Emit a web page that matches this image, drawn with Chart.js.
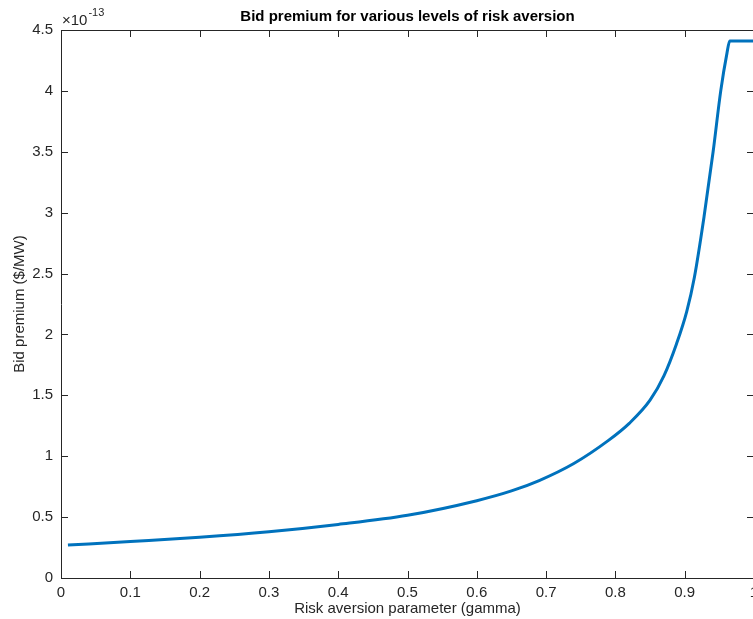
<!DOCTYPE html>
<html>
<head>
<meta charset="utf-8">
<script src="https://cdn.jsdelivr.net/npm/chart.js@4"></script>
<style>
  html, body { margin: 0; padding: 0; background: #fff; overflow: hidden; }
  #wrap { position: absolute; left: 0; top: 0; width: 790px; height: 619px; }
</style>
</head>
<body>
<div id="wrap"><canvas id="premiumChart" width="790" height="619"></canvas></div>
<script>
// risk aversion parameter (gamma)
const gammaValues = [0.01, 0.1, 0.2, 0.3, 0.4, 0.5, 0.6, 0.65, 0.69, 0.74, 0.79, 0.82, 0.85, 0.87, 0.888, 0.903, 0.914, 0.928, 0.941, 0.952, 0.961, 0.965, 1.0];
// bid premium, in units of 1e-13 $/MW
const bidPremium = [0.27, 0.30, 0.335, 0.38, 0.44, 0.515, 0.635, 0.715, 0.80, 0.94, 1.13, 1.27, 1.46, 1.66, 1.92, 2.19, 2.47, 2.97, 3.5, 4.0, 4.31, 4.41, 4.41];

const xTicks = [0, 0.1, 0.2, 0.3, 0.4, 0.5, 0.6, 0.7, 0.8, 0.9, 1];
const xTickLabels = ['0', '0.1', '0.2', '0.3', '0.4', '0.5', '0.6', '0.7', '0.8', '0.9', '1'];
const yTicks = [0, 0.5, 1, 1.5, 2, 2.5, 3, 3.5, 4, 4.5];
const yTickLabels = ['0', '0.5', '1', '1.5', '2', '2.5', '3', '3.5', '4', '4.5'];

const chartTitle = 'Bid premium for various levels of risk aversion';
const axisInk = '#262626';
const fontFamily = '"Liberation Sans", Arial, Helvetica, sans-serif';

// matlab style box with inward ticks, title and exponent label
const matlabFrame = {
    id: 'matlabFrame',
    afterDraw(chart) {
        const { ctx, chartArea: a, scales: { x, y } } = chart;
        const tick = 7;
        ctx.save();
        ctx.strokeStyle = axisInk;
        ctx.lineWidth = 1;
        ctx.beginPath();
        ctx.rect(Math.round(a.left) + 0.5, Math.round(a.top) + 0.5, Math.round(a.right - a.left), Math.round(a.bottom - a.top));
        xTicks.forEach(v => {
            const px = Math.round(x.getPixelForValue(v)) + 0.5;
            ctx.moveTo(px, a.bottom); ctx.lineTo(px, a.bottom - tick);
            ctx.moveTo(px, a.top); ctx.lineTo(px, a.top + tick);
        });
        yTicks.forEach(v => {
            const py = Math.round(y.getPixelForValue(v)) + 0.5;
            ctx.moveTo(a.left, py); ctx.lineTo(a.left + tick, py);
            ctx.moveTo(a.right, py); ctx.lineTo(a.right - tick, py);
        });
        ctx.stroke();

        ctx.fillStyle = '#000';
        ctx.font = 'bold 15px ' + fontFamily;
        ctx.textAlign = 'center';
        ctx.textBaseline = 'middle';
        ctx.fillText(chartTitle, (a.left + a.right) / 2, 17);

        ctx.fillStyle = axisInk;
        ctx.textAlign = 'left';
        ctx.textBaseline = 'alphabetic';
        ctx.font = '15px ' + fontFamily;
        ctx.fillText('\u00d710', a.left + 1, 25);
        const w = ctx.measureText('\u00d710').width;
        ctx.font = '11px ' + fontFamily;
        ctx.fillText('-13', a.left + 1 + w + 1, 16);
        ctx.restore();
    }
};

new Chart(document.getElementById('premiumChart'), {
    type: 'line',
    data: {
        labels: gammaValues,
        datasets: [{
            data: gammaValues.map((g, i) => ({ x: g, y: bidPremium[i] })),
            borderColor: '#0072BD',
            borderWidth: 3,
            pointRadius: 0,
            fill: false,
            cubicInterpolationMode: 'monotone'
        }]
    },
    options: {
        responsive: false,
        animation: false,
        devicePixelRatio: 1,
        layout: { padding: { left: 0, top: 30, right: 36, bottom: 0 } },
        plugins: { legend: { display: false }, tooltip: { enabled: false }, title: { display: false } },
        scales: {
            x: {
                type: 'linear', min: 0, max: 1,
                afterBuildTicks: s => { s.ticks = xTicks.map(v => ({ value: v })); },
                afterFit: s => { s.height = 41; },
                grid: { display: false, drawTicks: false },
                border: { display: false },
                ticks: {
                    color: axisInk, padding: 6, maxRotation: 0, autoSkip: false,
                    font: { family: fontFamily, size: 15 },
                    callback: (v, i) => xTickLabels[i]
                },
                title: { display: true, text: 'Risk aversion parameter (gamma)', color: axisInk, font: { family: fontFamily, size: 15 }, padding: { top: 0, bottom: 1 } }
            },
            y: {
                min: 0, max: 4.5,
                afterBuildTicks: s => { s.ticks = yTicks.map(v => ({ value: v })); },
                afterFit: s => { s.width = 61; },
                grid: { display: false, drawTicks: false },
                border: { display: false },
                ticks: {
                    color: axisInk, padding: 8, autoSkip: false,
                    font: { family: fontFamily, size: 15 },
                    callback: (v, i) => yTickLabels[i]
                },
                title: { display: true, text: 'Bid premium ($/MW)', color: axisInk, font: { family: fontFamily, size: 15 }, padding: { top: 11, bottom: 0 } }
            }
        }
    },
    plugins: [matlabFrame]
});
</script>
</body>
</html>
